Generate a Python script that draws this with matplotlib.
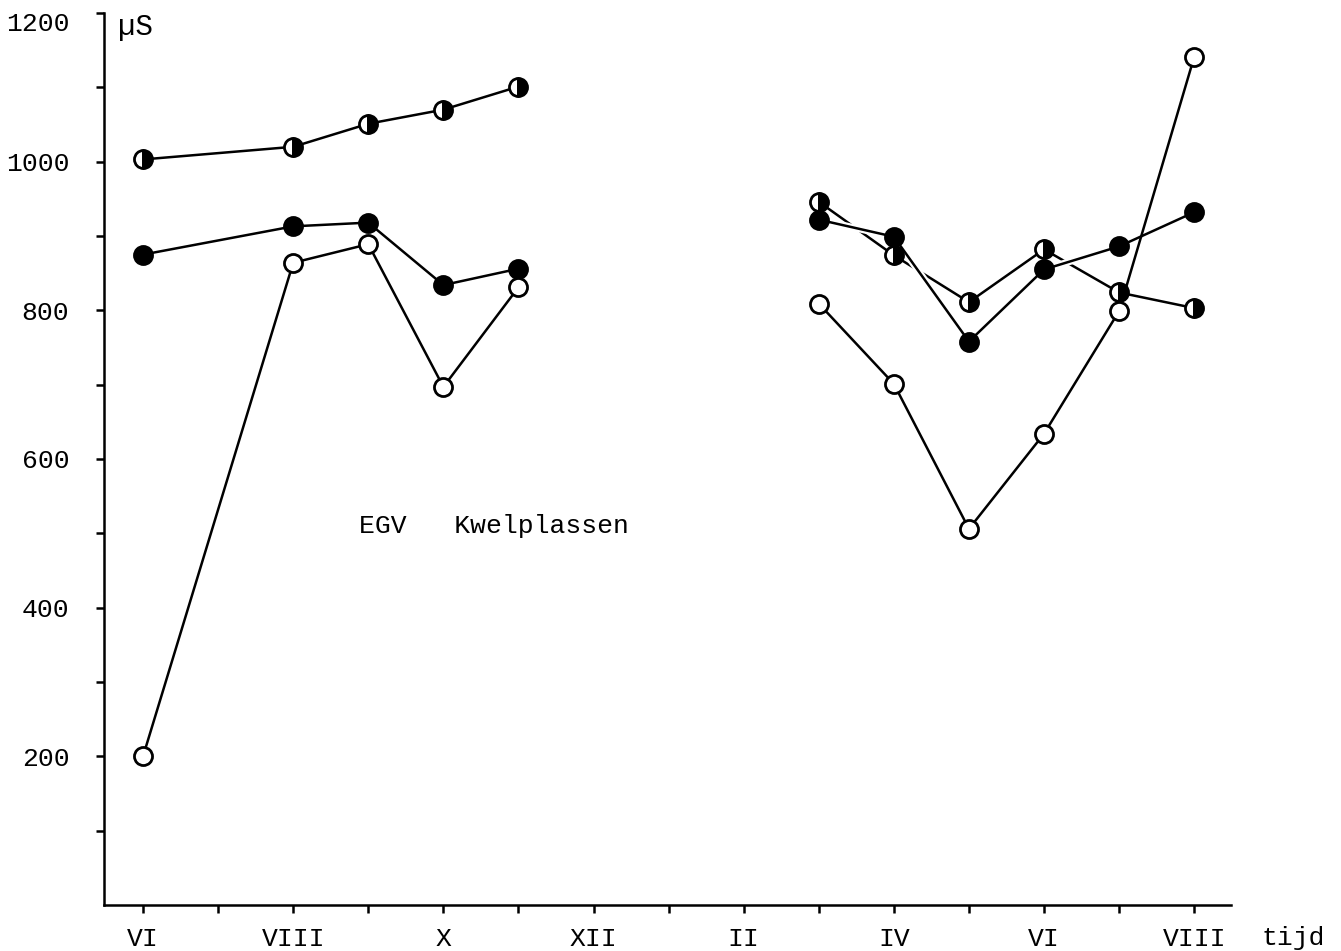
import matplotlib
matplotlib.use('Agg')
import matplotlib.pyplot as plt
import matplotlib.patheffects as pe
from matplotlib.transforms import ScaledTranslation

# maanden (VI van jaar 1 t/m VIII van jaar 2)
maanden = ['VI', 'VII', 'VIII', 'IX', 'X', 'XI', 'XII', 'I', 'II', 'III', 'IV', 'V', 'VI', 'VII', 'VIII']
x_deel1 = [0, 2, 3, 4, 5]
x_deel2 = [9, 10, 11, 12, 13, 14]

# half gevulde cirkels
half_1 = [1003, 1020, 1051, 1070, 1101]
half_2 = [946, 874, 811, 882, 824, 803]
# gevulde cirkels
vol_1 = [875, 913, 918, 834, 856]
vol_2 = [922, 899, 758, 855, 886, 932]
# open cirkels
open_1 = [200, 864, 889, 697, 831]
open_2 = [809, 701, 506, 634, 799, 1141]

plt.rcParams['font.family'] = ['Liberation Mono', 'DejaVu Sans Mono']

fig = plt.figure(figsize=(13.41, 9.51), dpi=100)
ax = fig.add_axes([104/1341, 46/951, 1127/1341, 892/951])

lw = 1.8
ms = 13
mew = 2.0
fs = 19


def lijn(x, y, z, halo=False):
    effects = [pe.withStroke(linewidth=5, foreground='white')] if halo else None
    ax.plot(x, y, color='black', lw=lw, zorder=z, path_effects=effects,
            solid_capstyle='butt')


def punten(x, y, soort):
    if soort == 'vol':
        ax.plot(x, y, ls='none', marker='o', ms=ms, mew=mew, mec='black',
                mfc='black', zorder=6)
    elif soort == 'open':
        ax.plot(x, y, ls='none', marker='o', ms=ms, mew=mew, mec='black',
                mfc='white', zorder=6)
    else:
        ax.plot(x, y, ls='none', marker='o', ms=ms, mew=mew, mec='black',
                fillstyle='left', mfc='white', markerfacecoloralt='black', zorder=6)


# eerste periode
lijn(x_deel1, half_1, 2)
lijn(x_deel1, vol_1, 3)
lijn(x_deel1, open_1, 4)
# tweede periode: halve lijn wordt onderbroken waar de volle lijn kruist
lijn(x_deel2, half_2, 2)
lijn(x_deel2, vol_2, 3, halo=True)
lijn(x_deel2, open_2, 4)

for xs, ys, s in [(x_deel1, half_1, 'half'), (x_deel1, vol_1, 'vol'), (x_deel1, open_1, 'open'),
                  (x_deel2, half_2, 'half'), (x_deel2, vol_2, 'vol'), (x_deel2, open_2, 'open')]:
    punten(xs, ys, s)

ax.set_xlim(-0.52, 14.49)
ax.set_ylim(0, 1200)

ax.spines['top'].set_visible(False)
ax.spines['right'].set_visible(False)
ax.spines['left'].set_linewidth(1.8)
ax.spines['bottom'].set_linewidth(1.8)

ax.set_xticks(range(len(maanden)))
ax.set_xticklabels([m if i % 2 == 0 else '' for i, m in enumerate(maanden)])
yt = list(range(100, 1201, 100))
ax.set_yticks(yt)
ax.set_yticklabels([str(v) if v % 200 == 0 else '' for v in yt])
ax.tick_params(axis='both', direction='out', length=6, width=1.8, labelsize=fs, colors='black')
ax.tick_params(axis='x', pad=10)
ax.tick_params(axis='y', pad=19)

# het label 1200 staat iets lager dan zijn streepje
lab = ax.yaxis.get_major_ticks()[-1].label1
lab.set_transform(lab.get_transform() + ScaledTranslation(0, -9/100, fig.dpi_scale_trans))

ax.text(-0.34, 1181, 'µS', fontsize=21, va='center', ha='left')
ax.text(2.88, 510, 'EGV   Kwelplassen', fontsize=fs, va='center', ha='left')
fig.text(1262/1341, 1 - 938/951, 'tijd', fontsize=fs, va='center', ha='left')

fig.savefig('out.png', dpi=100, facecolor='white')
